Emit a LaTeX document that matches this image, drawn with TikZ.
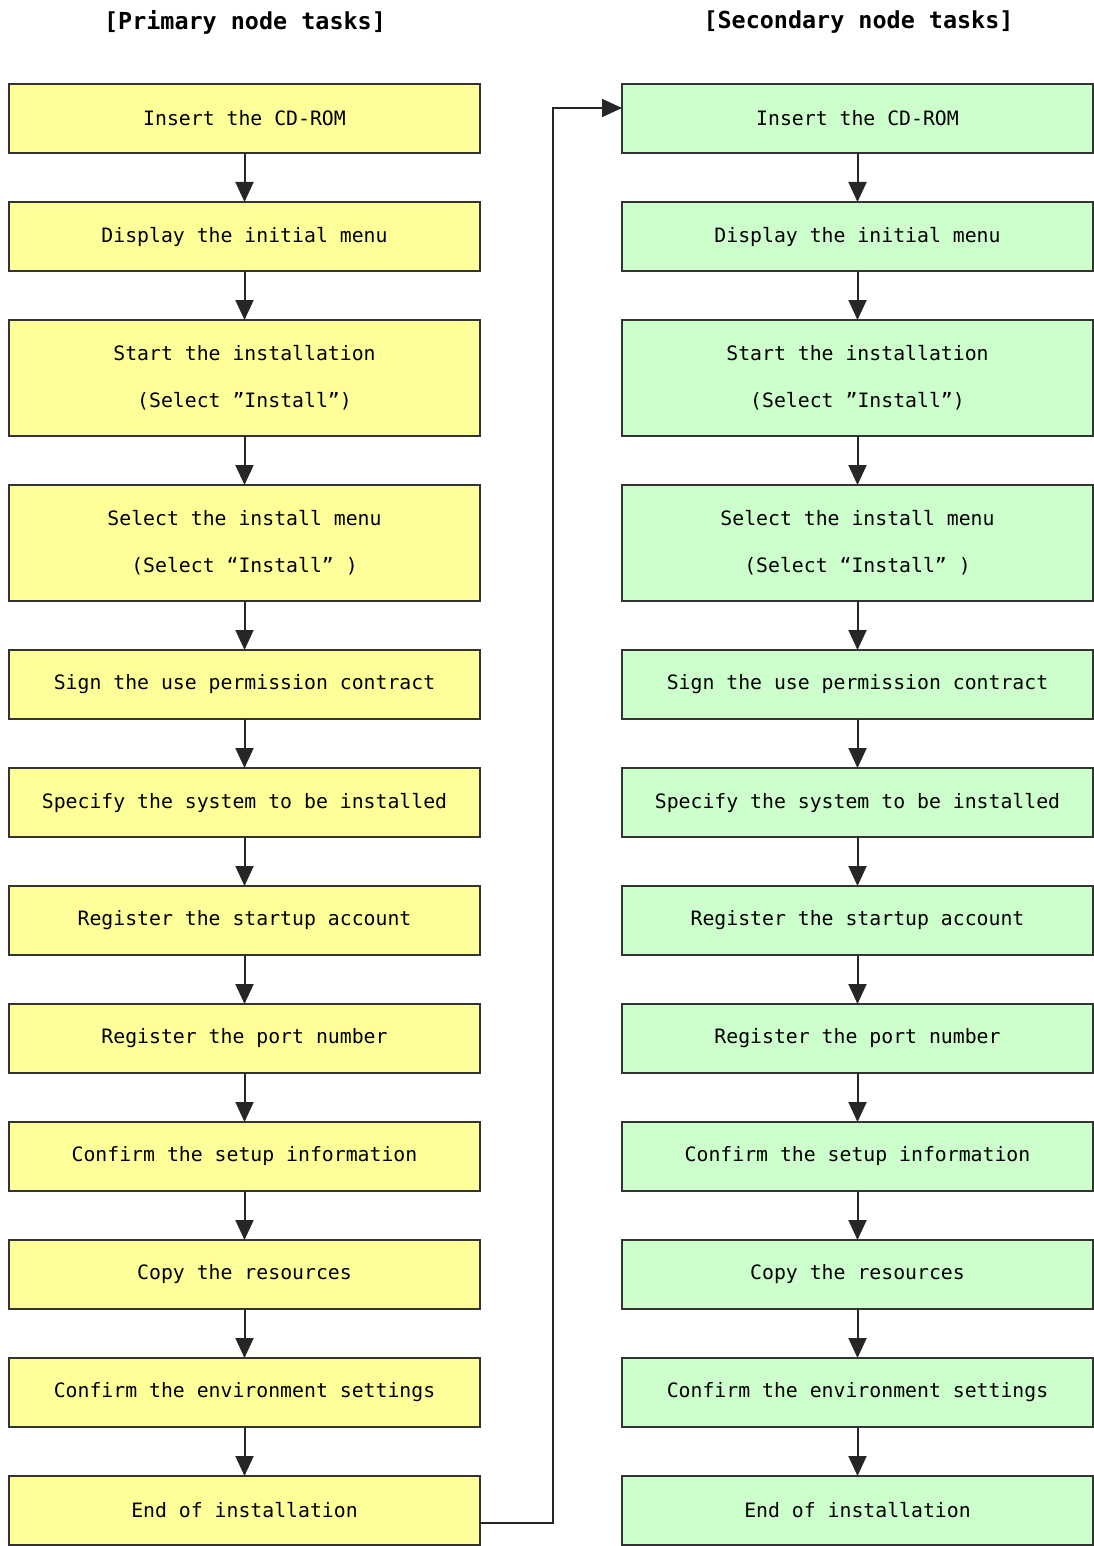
\documentclass[tikz,border=0pt]{standalone}
\usepackage{fontspec}
\setmonofont{DejaVu Sans Mono}
\usetikzlibrary{arrows.meta,positioning}
\definecolor{primfill}{HTML}{FFFF99}
\definecolor{secfill}{HTML}{CCFFCC}
\definecolor{edgegray}{HTML}{333333}
\tikzset{
  task/.style={draw=edgegray,line width=1pt,minimum width=235.5pt,minimum height=34.5pt,
    inner sep=2pt,outer sep=0pt,align=center,font=\ttfamily\fontsize{9.9}{12}\selectfont},
  tasktall/.style={task,minimum height=58pt},
  flow/.style={draw=black!85,line width=1pt,-{Triangle[length=10pt,width=9pt]}},
  heading/.style={font=\ttfamily\bfseries\fontsize{11.7}{14}\selectfont}
}

\begin{document}
\begin{tikzpicture}[x=0.5pt,y=-0.5pt,node distance=24.5pt]
        \useasboundingbox(0,0)rectangle(1093,1546);
        \node[heading](hp)at(245,22){[Primary node tasks]};
        \node[heading](hs)at(858.5,22){[Secondary node tasks]};
        \foreach \col/\xx/\fc in {p/244.5/primfill,s/857.5/secfill}{
        \node[task,fill=\fc](\col1)at(\xx,118.5){Insert the CD-ROM};
        \node[task,fill=\fc,below=of \col1](\col2){Display the initial menu};
        \node[tasktall,fill=\fc,below=of \col2](\col3){Start the installation\\[11.5pt](Select ”Install”)};
        \node[tasktall,fill=\fc,below=of \col3](\col4){Select the install menu\\[11.5pt](Select  “Install” )};
        \node[task,fill=\fc,below=of \col4](\col5){Sign the use permission contract};
        \node[task,fill=\fc,below=of \col5](\col6){Specify the system to be installed};
        \node[task,fill=\fc,below=of \col6](\col7){Register the startup account};
        \node[task,fill=\fc,below=of \col7](\col8){Register the port number};
        \node[task,fill=\fc,below=of \col8](\col9){Confirm the setup information};
        \node[task,fill=\fc,below=of \col9](\col10){Copy the resources};
        \node[task,fill=\fc,below=of \col10](\col11){Confirm the environment settings};
        \node[task,fill=\fc,below=of \col11](\col12){End of installation};
        \foreach \i in {1,...,11}{
          \pgfmathtruncatemacro\j{\i+1}
          \draw[flow](\col\i)--(\col\j);}
        }
        % hand over to the secondary node
        \path([yshift=-6.25pt]p12.east)++(73,0)coordinate(turn);
        \draw[flow]([yshift=-6.25pt]p12.east)--(turn)|-([yshift=5.25pt]s1.west);
    \end{tikzpicture}
\end{document}
